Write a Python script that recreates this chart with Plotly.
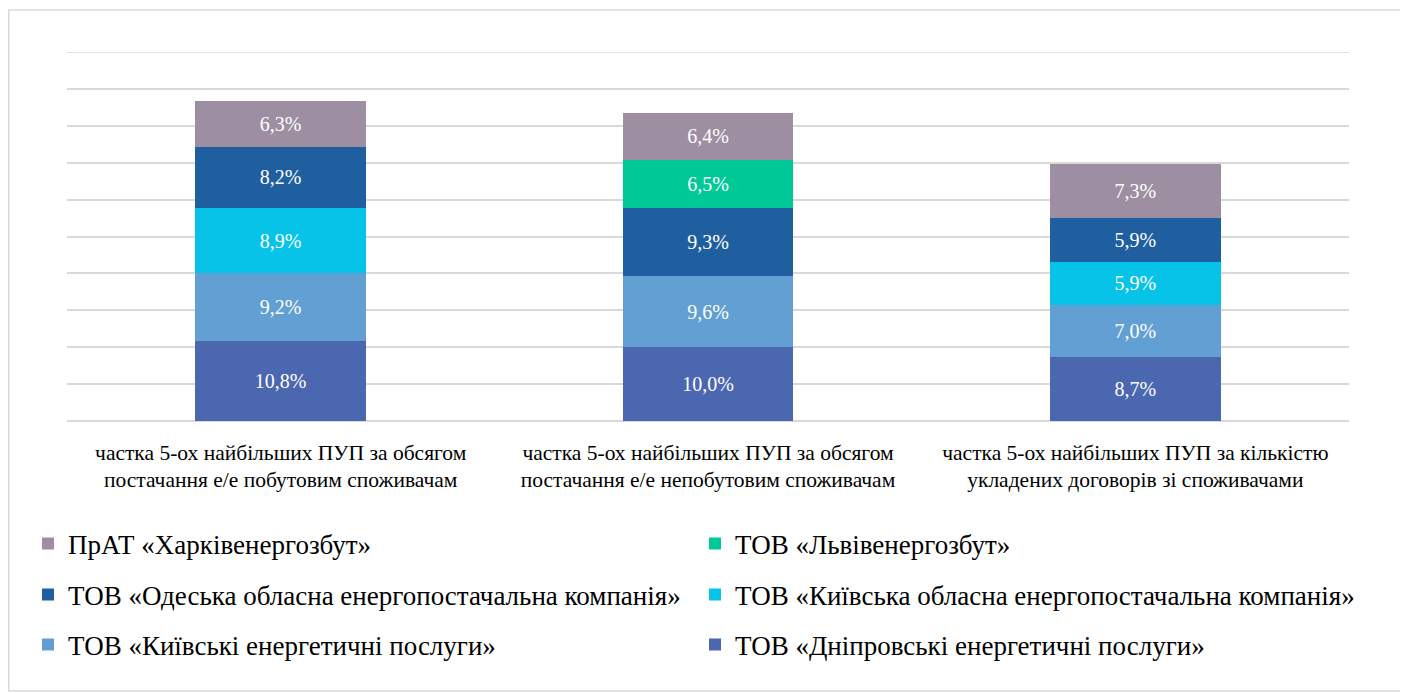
import plotly.graph_objects as go

categories = [
    "частка 5-ох найбільших ПУП за обсягом<br>постачання е/е побутовим споживачам",
    "частка 5-ох найбільших ПУП за обсягом<br>постачання е/е непобутовим споживачам",
    "частка 5-ох найбільших ПУП за кількістю<br>укладених договорів зі споживачами",
]

dnipro = [10.8, 10.0, 8.7]
kyivski = [9.2, 9.6, 7.0]
kyiv_obl = [8.9, None, 5.9]
odesa = [8.2, 9.3, 5.9]
lviv = [None, 6.5, None]
kharkiv = [6.3, 6.4, 7.3]

series = [
    ("ТОВ «Дніпровські енергетичні послуги»", dnipro, "#4A67B0", "legend3"),
    ("ТОВ «Київські енергетичні послуги»", kyivski, "#629FD3", "legend3"),
    ("ТОВ «Київська обласна енергопостачальна компанія»", kyiv_obl, "#08C3E8", "legend2"),
    ("ТОВ «Одеська обласна енергопостачальна компанія»", odesa, "#1F5F9F", "legend2"),
    ("ТОВ «Львівенергозбут»", lviv, "#00C998", "legend"),
    ("ПрАТ «Харківенергозбут»", kharkiv, "#9D8FA1", "legend"),
]

FONT = "Liberation Serif"
W, H = 1400, 685  # page body has an 8px margin
PW = 1282.0
PH = 369.0
Y_MAX = 50

def py(pix):  # screenshot pixel y -> paper fraction
    return (421 - pix) / PH

fig = go.Figure()
for name, vals, color, lg in series:
    fig.add_trace(go.Bar(
        x=categories, y=vals, name=name, legend=lg,
        marker=dict(color=color, line=dict(width=0)),
        text=[("" if v is None else f"{v:.1f}%".replace(".", ",")) for v in vals],
        textposition="inside", insidetextanchor="middle",
        textfont=dict(family=FONT, size=20, color="white"),
        hoverinfo="skip",
    ))

legend_common = dict(
    orientation="h", xanchor="left", yanchor="middle",
    xref="paper", yref="paper", x=(20 - 59) / PW,
    font=dict(family=FONT, size=27, color="#000000"),
    entrywidth=622, entrywidthmode="pixels", traceorder="reversed",
    bgcolor="rgba(0,0,0,0)",
)

fig.update_layout(
    width=W, height=H,
    barmode="stack", bargap=0.6,
    plot_bgcolor="white", paper_bgcolor="white",
    margin=dict(l=59, r=59, t=44, b=272, autoexpand=False),
    font=dict(family=FONT, size=20, color="#000000"),
    uniformtext=dict(mode="show", minsize=10),
    showlegend=True,
    legend=dict(legend_common, y=py(544)),
    legend2=dict(legend_common, y=py(595)),
    legend3=dict(legend_common, y=py(645)),
    xaxis=dict(showline=False, showgrid=False, ticks="", ticklabelstandoff=16,
               tickfont=dict(family=FONT, size=21.5, color="#000000")),
    yaxis=dict(range=[0, Y_MAX], dtick=5,
               showgrid=True, gridcolor="#D9D9D9", gridwidth=1.5,
               zeroline=True, zerolinecolor="#D9D9D9", zerolinewidth=1.5,
               showticklabels=False, ticks=""),
    shapes=[
        dict(type="rect", xref="paper", yref="paper",
             x0=(0.75 - 59) / PW, x1=(1398 - 59) / PW,
             y0=py(691), y1=py(10),
             line=dict(color="#D9D9D9", width=1.5), fillcolor="rgba(0,0,0,0)", layer="below"),
        dict(type="line", xref="paper", yref="y", x0=0, x1=1, y0=Y_MAX, y1=Y_MAX,
             line=dict(color="#D9D9D9", width=1.5), layer="below"),
    ],
)

fig.write_html("out.html", config={"displayModeBar": False})
